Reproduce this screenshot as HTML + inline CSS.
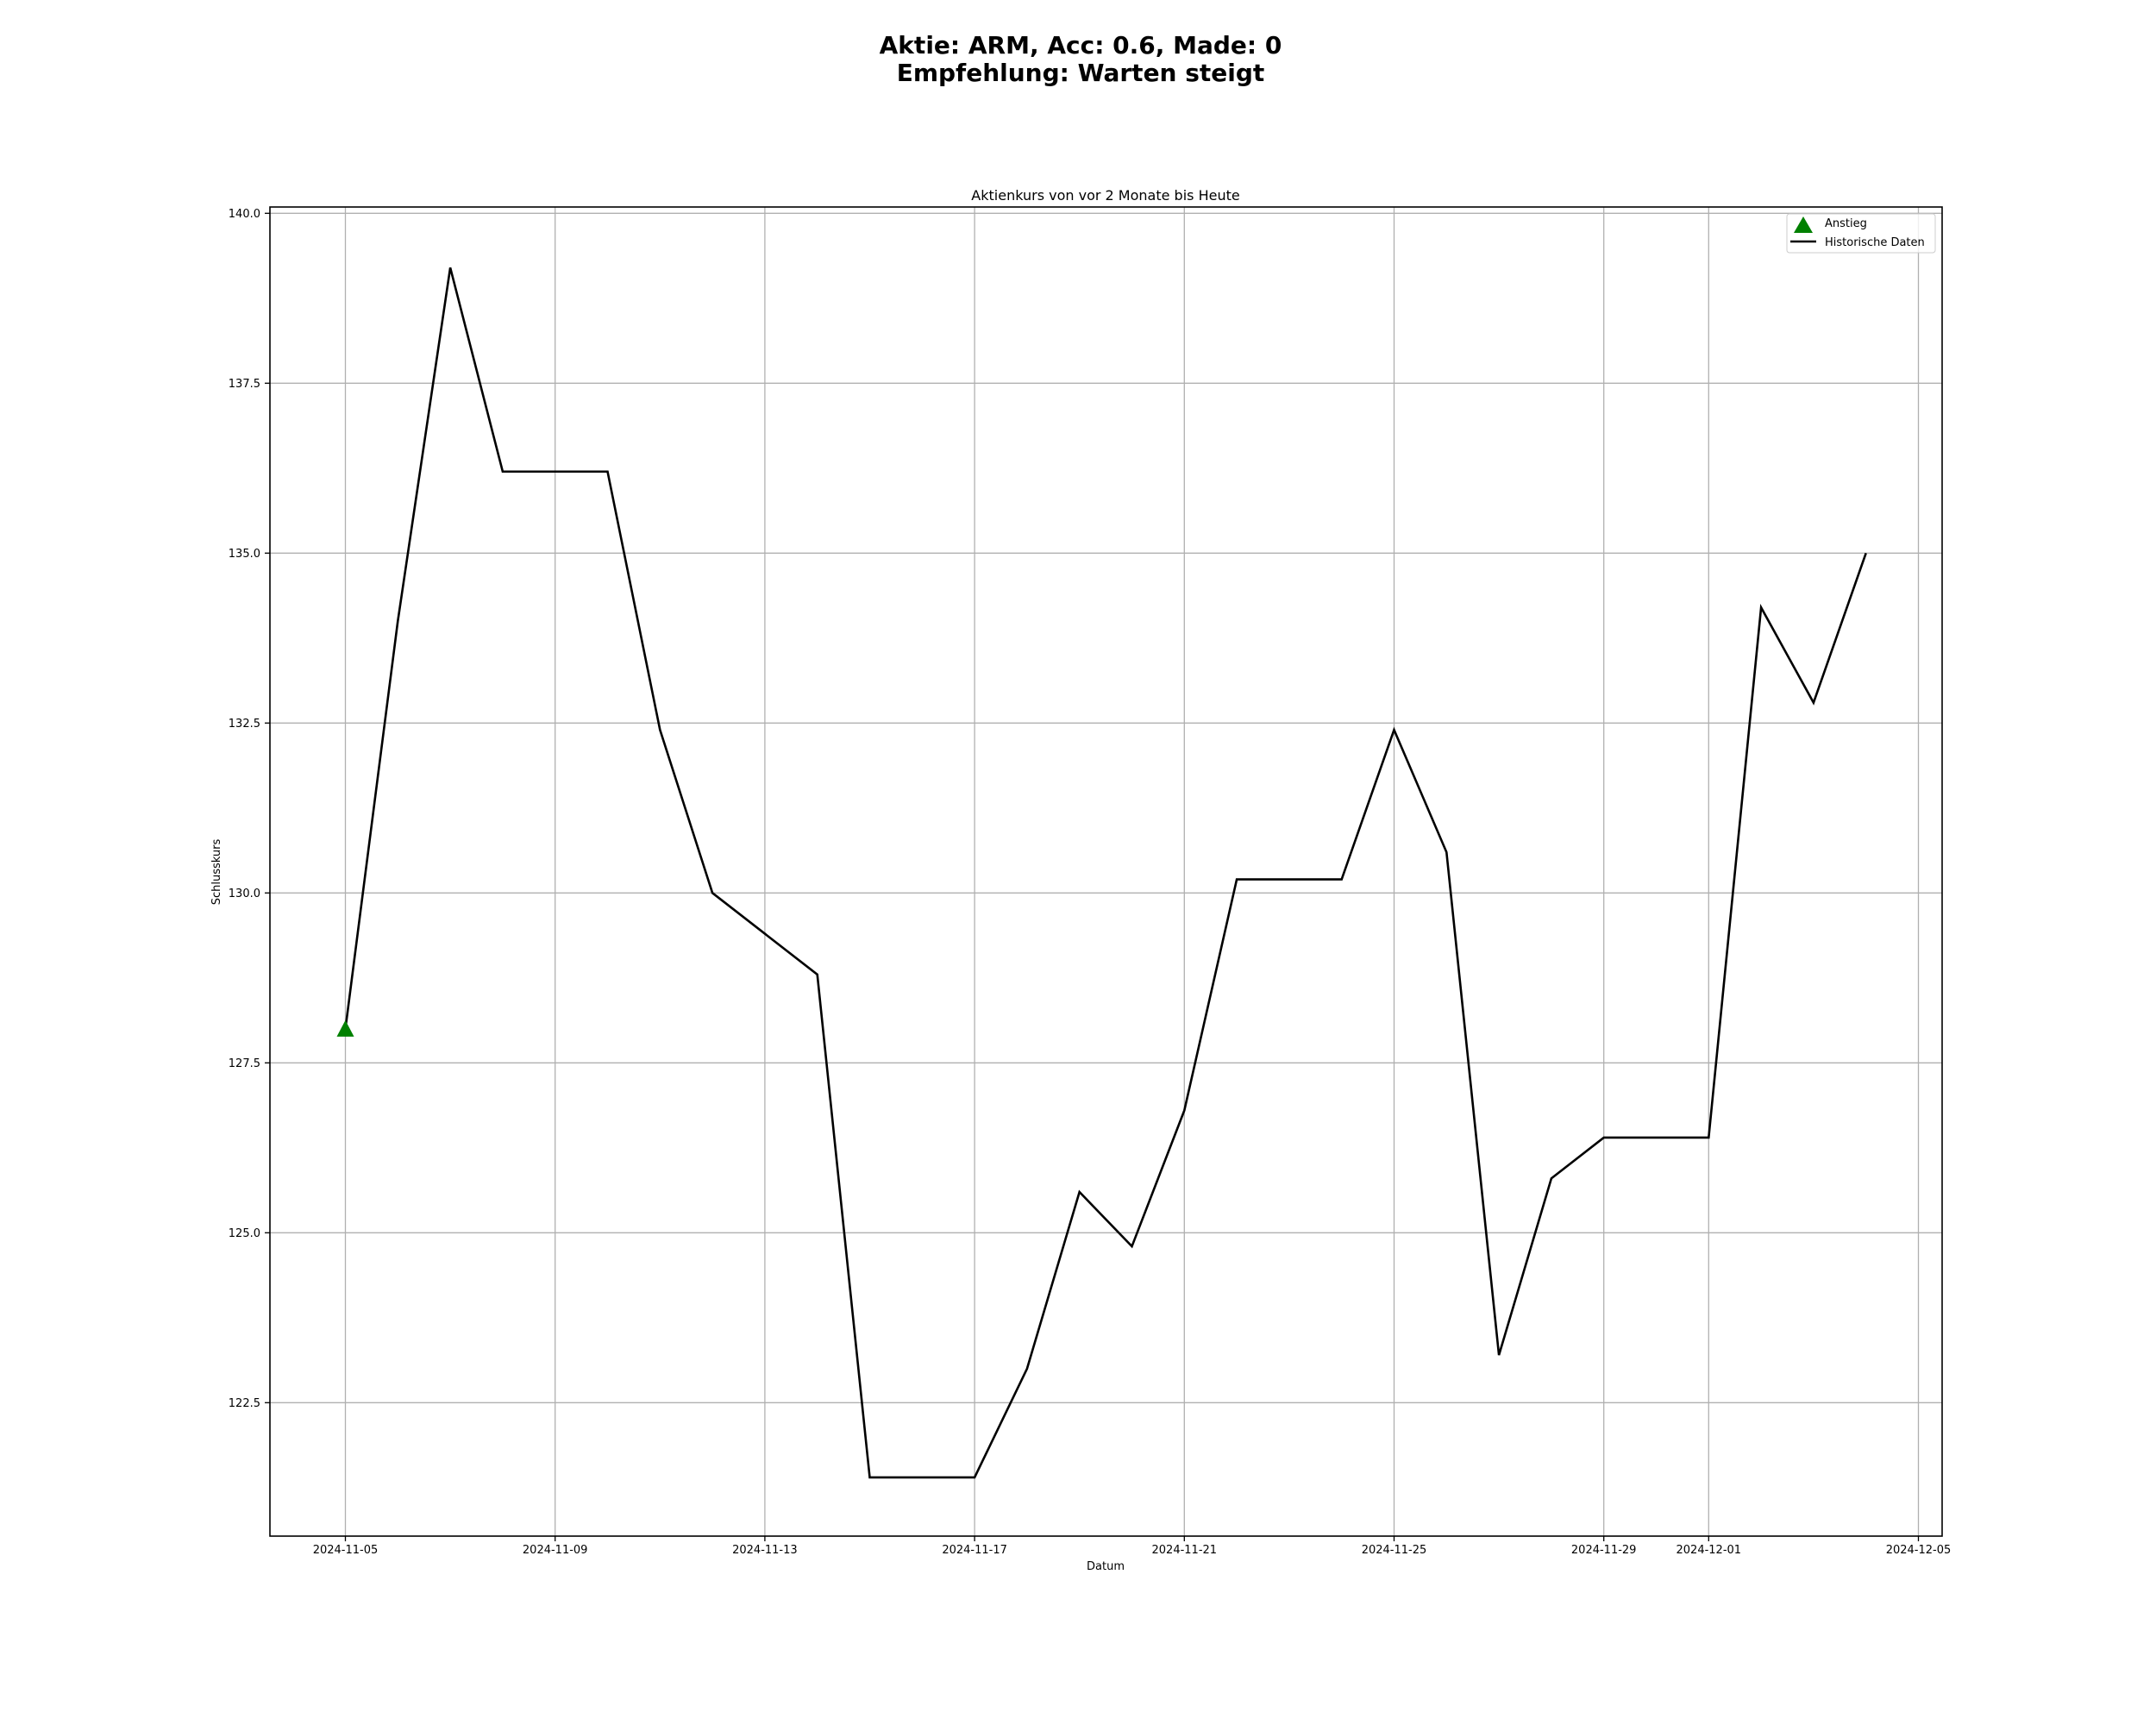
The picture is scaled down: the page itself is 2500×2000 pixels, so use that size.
<!DOCTYPE html>
<html><head><meta charset="utf-8"><style>
body{margin:0;background:#fff;}
svg{display:block;font-family:"DejaVu Sans","Liberation Sans",sans-serif;}
</style></head><body>
<svg id="chart" width="2500" height="2000" viewBox="0 0 2500 2000">
<rect width="2500" height="2000" fill="#fff"/>
<text x="1253" y="62" text-anchor="middle" font-size="28" font-weight="bold">Aktie: ARM, Acc: 0.6, Made: 0</text>
<text x="1253" y="94" text-anchor="middle" font-size="28" font-weight="bold">Empfehlung: Warten steigt</text>
<text x="1282" y="232" text-anchor="middle" font-size="16">Aktienkurs von vor 2 Monate bis Heute</text>
<g id="grid"></g>
<g id="ticks"></g>
<g id="series"></g>
<rect x="313" y="240" width="1939" height="1541" fill="none" stroke="#000" stroke-width="1.6"/>
<text x="1282" y="1820" text-anchor="middle" font-size="13">Datum</text>
<text transform="translate(255,1011) rotate(-90)" text-anchor="middle" font-size="13">Schlusskurs</text>
<g>
<rect x="2072" y="248" width="172" height="45" rx="3" fill="#fff" fill-opacity="0.8" stroke="#ccc"/>
<polygon points="2080,270 2091,251 2102,270" fill="#008000"/>
<text x="2116" y="263" font-size="13">Anstieg</text>
<line x1="2076" y1="280" x2="2106" y2="280" stroke="#000" stroke-width="2.5"/>
<text x="2116" y="285" font-size="13">Historische Daten</text>
</g>
</svg>
<script>
const dates=["2024-11-05","2024-11-06","2024-11-07","2024-11-08","2024-11-09","2024-11-10","2024-11-11","2024-11-12","2024-11-13","2024-11-14","2024-11-15","2024-11-16","2024-11-17","2024-11-18","2024-11-19","2024-11-20","2024-11-21","2024-11-22","2024-11-23","2024-11-24","2024-11-25","2024-11-26","2024-11-27","2024-11-28","2024-11-29","2024-11-30","2024-12-01","2024-12-02","2024-12-03","2024-12-04"];
const closes=[128.0,134.0,139.2,136.2,136.2,136.2,132.4,130.0,129.4,128.8,121.4,121.4,121.4,123.0,125.6,124.8,126.8,130.2,130.2,130.2,132.4,130.6,123.2,125.8,126.4,126.4,126.4,134.2,132.8,135.0];
const riseDates=["2024-11-05"];
const riseValues=[128.0];
const xTickLabels=["2024-11-05","2024-11-09","2024-11-13","2024-11-17","2024-11-21","2024-11-25","2024-11-29","2024-12-01","2024-12-05"];
const yTickValues=[122.5,125.0,127.5,130.0,132.5,135.0,137.5,140.0];

const NS="http://www.w3.org/2000/svg";
const d0=Date.parse("2024-11-05");
function xs(d){return 400.5+(Date.parse(d)-d0)/86400000*60.8;}
function ys(v){return 247.3+(140-v)*78.8;}
function mk(tag,attrs,parent){const e=document.createElementNS(NS,tag);for(const k in attrs)e.setAttribute(k,attrs[k]);parent.appendChild(e);return e;}
const grid=document.getElementById('grid'),ticks=document.getElementById('ticks'),series=document.getElementById('series');
xTickLabels.forEach(d=>{const x=xs(d);
 const g=mk('line',{x1:x,x2:x,y1:240,y2:1781,stroke:'#b0b0b0','stroke-width':1.3},grid);
 
 
 const t=mk('line',{x1:x,x2:x,y1:1781,y2:1787,stroke:'#000','stroke-width':1.3},ticks);
 
 
 const l=mk('text',{x:x,y:1801,'text-anchor':'middle','font-size':13},ticks);l.textContent=d;
 
 
});
yTickValues.forEach(v=>{const y=ys(v);
 const g=mk('line',{x1:313,x2:2252,y1:y,y2:y,stroke:'#b0b0b0','stroke-width':1.3},grid);
 
 
 const t=mk('line',{x1:307,x2:313,y1:y,y2:y,stroke:'#000','stroke-width':1.3},ticks);
 
 
 const l=mk('text',{x:302,y:y+4.5,'text-anchor':'end','font-size':13},ticks);l.textContent=v.toFixed(1);
 
 
});
const pl=mk('polyline',{points:dates.map((d,i)=>xs(d)+','+ys(closes[i])).join(' '),fill:'none',stroke:'#000','stroke-width':2.6,'stroke-linejoin':'miter'},series);


riseDates.forEach((d,i)=>{const x=xs(d),y=ys(riseValues[i]);
 const p=mk('polygon',{points:(x-10)+','+(y+9)+' '+x+','+(y-10)+' '+(x+10)+','+(y+9),fill:'#008000'},series);
 
 
});
</script>
</body></html>
